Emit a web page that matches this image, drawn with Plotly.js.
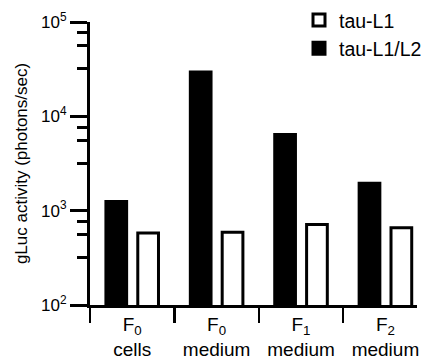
<!DOCTYPE html>
<html>
<head>
<meta charset="utf-8">
<script src="https://cdn.plot.ly/plotly-3.0.1.min.js"></script>
<style>html,body{margin:0;padding:0;background:#fff;}#chart{width:427px;height:360px;}</style>
</head>
<body>
<div id="chart"></div>
<script>
var categories = ["F0 cells", "F0 medium", "F1 medium", "F2 medium"];
var categoryLabels = ["F<sub>0</sub><br>cells", "F<sub>0</sub><br>medium", "F<sub>1</sub><br>medium", "F<sub>2</sub><br>medium"];
var tauL1L2 = [1250, 29500, 6400, 1950];
var tauL1 = [580, 590, 715, 660];
var yTickVals = [100, 1000, 10000, 100000];
var yTickText = ["10<sup>2</sup>", "10<sup>3</sup>", "10<sup>4</sup>", "10<sup>5</sup>"];
var yMinorVals = [320, 560, 770, 3200, 5600, 7700, 32000, 56000, 77000];

var FONT = "Liberation Sans, Arial, Helvetica, sans-serif";

var traces = [
  {
    type: "bar", name: "tau-L1/L2", x: categories, y: tauL1L2,
    marker: {color: "#000000", line: {color: "#000000", width: 3}},
    legendrank: 2
  },
  {
    type: "bar", name: "tau-L1", x: categories, y: tauL1,
    marker: {color: "#ffffff", line: {color: "#000000", width: 3}},
    legendrank: 1
  }
];

var layout = {
  width: 427, height: 360,
  margin: {l: 90, r: 0, t: 22, b: 55, pad: 0},
  paper_bgcolor: "#ffffff", plot_bgcolor: "#ffffff",
  font: {family: FONT, color: "#000000", size: 19},
  barmode: "group", bargap: 0.245, bargroupgap: 0.35,
  showlegend: true,
  legend: {
    x: 0.64, xanchor: "left", y: 1.075, yanchor: "top",
    bgcolor: "rgba(0,0,0,0)", borderwidth: 0,
    font: {family: FONT, size: 19.5, color: "#000000"},
    tracegroupgap: 0
  },
  xaxis: {
    type: "category", range: [-0.5, 3.374],
    tickmode: "array", tickvals: categories, ticktext: categoryLabels,
    tickson: "boundaries", ticks: "outside", ticklen: 15, tickwidth: 2.5, tickcolor: "#000",
    showline: true, linecolor: "#000", linewidth: 3,
    showgrid: false, zeroline: false,
    tickfont: {family: FONT, size: 19, color: "#000"},
    fixedrange: true
  },
  yaxis: {
    type: "log", range: [2, 5],
    tickmode: "array", tickvals: yTickVals, ticktext: yTickText,
    ticks: "outside", ticklen: 17, tickwidth: 3, tickcolor: "#000",
    minor: {tickmode: "array", tickvals: yMinorVals, ticks: "outside", ticklen: 10, tickwidth: 3, tickcolor: "#000", showgrid: false},
    showline: true, linecolor: "#000", linewidth: 3,
    showgrid: false, zeroline: false,
    tickfont: {family: FONT, size: 17, color: "#000"},
    title: {text: "gLuc activity (photons/sec)", font: {family: FONT, size: 17, color: "#000"}, standoff: 10},
    fixedrange: true
  }
};

Plotly.newPlot("chart", traces, layout, {displayModeBar: false, staticPlot: true});
</script>
</body>
</html>
